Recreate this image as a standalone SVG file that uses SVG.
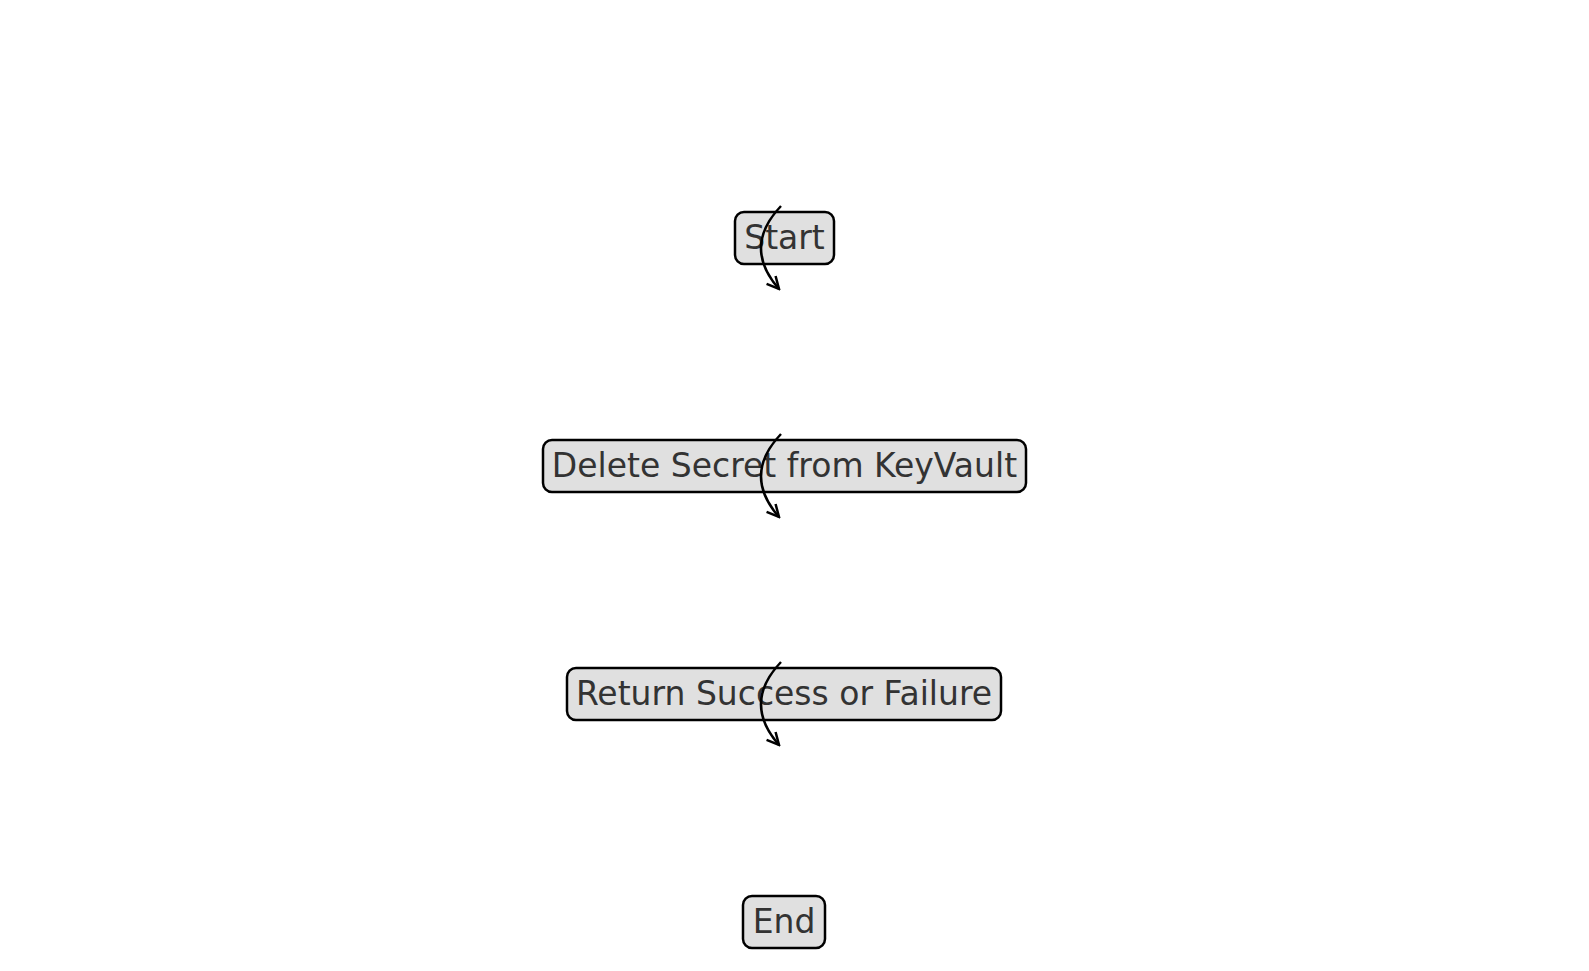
<svg xmlns="http://www.w3.org/2000/svg" width="1589" height="971" viewBox="0 0 1589 971">
<style>
.box{fill:#e0e0e0;stroke:#000;stroke-width:2.5}
.lbl{font-family:"DejaVu Sans",sans-serif;font-size:33px;fill:#333;text-anchor:middle;dominant-baseline:central}
.edge{fill:none;stroke:#000;stroke-width:2.5}
</style>
<defs>
<marker id="ah" viewBox="-14 -8 16 16" refX="0" refY="0" markerWidth="16" markerHeight="16" markerUnits="userSpaceOnUse" orient="auto">
<path d="M-12,-6 L0,0 L-12,6" fill="none" stroke="#000" stroke-width="2.5"/>
</marker>
</defs>
<rect width="1589" height="971" fill="#fff"/>
<g id="n-start"><rect class="box" x="735" y="212" width="99" height="52" rx="9"/><text class="lbl" x="784.5" y="237">Start</text></g>
<g id="n-delete"><rect class="box" x="543" y="440" width="483" height="52" rx="9"/><text class="lbl" x="784.5" y="465">Delete Secret from KeyVault</text></g>
<g id="n-return"><rect class="box" x="567" y="668" width="434" height="52" rx="9"/><text class="lbl" x="784" y="693">Return Success or Failure</text></g>
<g id="n-end"><rect class="box" x="743" y="896" width="82" height="52" rx="9"/><text class="lbl" x="784" y="921">End</text></g>
<g id="edges">
<path class="edge" d="M781,206 Q742,247 779,289" marker-end="url(#ah)"/>
<path class="edge" d="M781,434 Q742,475 779,517" marker-end="url(#ah)"/>
<path class="edge" d="M781,662 Q742,703 779,745" marker-end="url(#ah)"/>
</g>
</svg>
